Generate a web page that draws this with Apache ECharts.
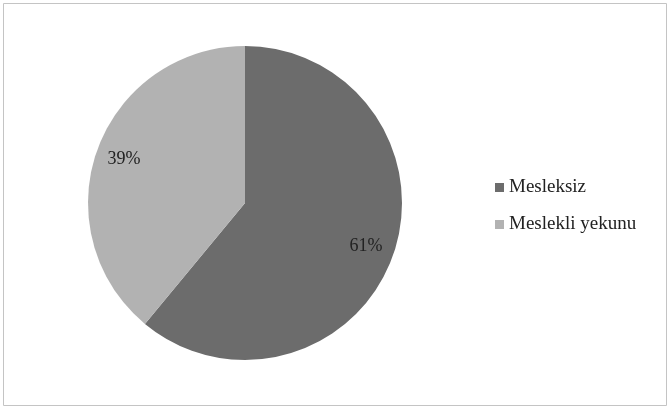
<!DOCTYPE html>
<html><head><meta charset="utf-8">
<script src="https://cdn.jsdelivr.net/npm/echarts@6/dist/echarts.min.js"></script>
<style>html,body{margin:0;padding:0;background:#fff}#c{width:670px;height:410px}</style>
</head><body><div id="c"></div>
<script>
const categories = ['Mesleksiz', 'Meslekli yekunu'];
const values = [61, 39];
const colors = ['#6c6c6c', '#b2b2b2'];

const chart = echarts.init(document.getElementById('c'));
const data = categories.map((n, i) => ({ name: n, value: values[i], itemStyle: { color: colors[i] } }));
chart.setOption({
  animation: false,
  backgroundColor: '#fff',
  graphic: [{ type: 'rect', shape: { x: 3.5, y: 3.5, width: 663, height: 402 },
    style: { fill: 'none', stroke: '#c4c4c4', lineWidth: 1 } }],
  legend: {
    orient: 'vertical', left: 490, top: 173, itemGap: 18, itemWidth: 9, itemHeight: 9, icon: 'rect',
    textStyle: { fontFamily: 'Liberation Serif', fontSize: 19, color: '#222' },
    data: categories
  },
  series: [{
    type: 'pie', radius: 157, center: [245, 203], startAngle: 90, clockwise: true,
    label: { show: false }, labelLine: { show: false },
    emphasis: { disabled: true }, silent: true,
    data: data
  }, {
    type: 'pie', radius: [94, 157], center: [245, 203], startAngle: 90, clockwise: true,
    silent: true, emphasis: { disabled: true },
    itemStyle: { color: 'rgba(0,0,0,0)' }, legendHoverLink: false,
    label: { show: true, position: 'inside', formatter: '{c}%', fontFamily: 'Liberation Serif', fontSize: 18, color: '#222' },
    labelLine: { show: false },
    data: categories.map((n, i) => ({ name: n + ' ', value: values[i] }))
  }]
});
</script></body></html>
